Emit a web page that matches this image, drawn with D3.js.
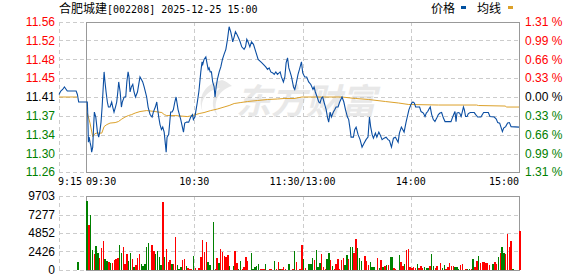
<!DOCTYPE html>
<html><head><meta charset="utf-8">
<script src="https://cdn.jsdelivr.net/npm/d3@7/dist/d3.min.js"></script>
<style>html,body{margin:0;padding:0;background:#fff;}svg{display:block;}</style>
</head><body>
<svg id="c" width="578" height="276"></svg>
<script>
// ---------- data ----------
const titleName = "合肥城建";
const titleRest = "[002208] 2025-12-25 15:00";
const prevClose = 11.41;
const pctMax = 1.31;
const pctLevels = [1.31, 0.99, 0.66, 0.33, 0, -0.33, -0.66, -0.99, -1.31];
const priceTickLabels = ["11.56","11.52","11.48","11.45","11.41","11.37","11.34","11.30","11.26"];
const pctTickLabels = ["1.31 %","0.99 %","0.66 %","0.33 %","0.00 %","0.33 %","0.66 %","0.99 %","1.31 %"];
const volMax = 9703;
const volTicks = [9703, 7277, 4852, 2426, 0];
const timeLabels = ["9:15","09:30","10:30","11:30/13:00","14:00","15:00"];
const timeLabelMin = [-15, 0, 60, 120, 180, 240];
const legendLabels = ["价格","均线"];

// minutes from 09:30 (negative = call auction, 121+ = afternoon)
const priceMin = [-15,-14,-13,-12,-10.4,-5.5,-4.8,-4.1,0.7,0.9,1.3,1.7,2.2,2.8,3.1,3.7,4.1,4.6,5.4,5.7,6.3,7.0,7.6,8.3,8.9,9.6,10,10.5,11.1,11.8,12.4,13.3,14.2,14.8,15.5,16.3,17,17.6,18.1,18.5,18.9,19.6,20.1,21.1,22,22.6,23.3,23.8,24.4,25.1,25.9,26.6,27.4,28.5,29.2,29.9,30.7,31.4,32.2,32.9,33.6,34.4,35.5,36.6,37.3,38.4,39.2,39.7,40.3,41,41.8,42.5,43.3,44,44.4,44.9,45.8,46.4,46.9,47.7,48.4,49.2,49.9,51.0,52.5,53.4,54.0,54.7,55.8,56.9,58.0,59.0,59.5,60.3,61.0,61.7,62.5,62.8,63.6,64.3,64.7,65.4,66.4,66.9,67.7,68.2,68.8,69.5,70.2,71.0,71.5,72.1,72.8,73.8,74.7,75.6,76.5,77.5,78.4,79.3,80.2,80.8,81.3,82.1,82.8,83.6,84.5,85.4,86.3,87.6,88.4,89.1,89.8,90.8,91.7,92.8,94.1,95.4,96.9,98.3,99.6,100.6,101.5,102.4,103.5,104.3,105.2,106.1,107.6,108.3,109.4,110.2,110.9,111.7,112.4,113.1,113.9,115.0,115.7,116.4,117.5,118.3,119.4,120.1,121.2,122.3,123.4,124.6,125.8,126.4,127.1,128.1,129,129.7,130.5,131.2,131.9,133.1,133.8,134.5,135.3,136,137.1,137.9,138.6,139.7,140.6,141.9,142.9,143.8,144.9,145.6,146.4,146.9,148.2,148.9,149.7,150.8,151.9,153,154.1,155.2,156.3,157.1,157.8,158.6,159.3,160.4,161.2,162.3,163,164.1,165.2,166.3,167.4,168.2,169.3,170.4,171.5,173,173.7,174.8,176.3,177.4,178.1,179,179.8,180.5,181.2,182,182.7,183.8,184.9,185.7,187,187.9,188.6,189.4,190.1,190.8,191.6,192.5,193.4,194.4,195.3,196.2,197.1,198.1,199,202.3,203,203.8,204.5,205.1,205.6,206.4,207.1,207.9,208.6,209.2,209.7,210.4,211.2,211.9,213,215.2,216,217.1,218.9,219.7,220.4,223,223.9,226.3,227.4,228.2,229.3,230,230.8,231.5,232.6,233.7,234.7,235.6,240];
const priceVal = [11.415,11.422,11.425,11.43,11.422,11.422,11.415,11.40,11.40,11.38,11.32,11.33,11.32,11.31,11.30,11.31,11.345,11.38,11.37,11.36,11.34,11.33,11.34,11.36,11.39,11.435,11.46,11.44,11.42,11.40,11.39,11.39,11.40,11.39,11.38,11.39,11.40,11.42,11.44,11.43,11.42,11.39,11.40,11.41,11.41,11.44,11.46,11.45,11.42,11.43,11.435,11.42,11.41,11.42,11.435,11.45,11.445,11.44,11.43,11.42,11.41,11.39,11.375,11.37,11.38,11.39,11.40,11.385,11.37,11.355,11.345,11.35,11.34,11.315,11.30,11.33,11.335,11.36,11.38,11.38,11.385,11.40,11.41,11.385,11.365,11.35,11.34,11.358,11.36,11.36,11.37,11.375,11.365,11.37,11.385,11.40,11.42,11.43,11.46,11.48,11.475,11.485,11.49,11.48,11.465,11.468,11.46,11.46,11.44,11.43,11.41,11.43,11.445,11.46,11.47,11.485,11.495,11.505,11.525,11.55,11.54,11.53,11.52,11.53,11.54,11.535,11.528,11.52,11.51,11.505,11.51,11.525,11.52,11.51,11.52,11.515,11.50,11.485,11.48,11.475,11.47,11.465,11.468,11.46,11.458,11.455,11.46,11.455,11.46,11.45,11.44,11.45,11.478,11.488,11.468,11.46,11.45,11.43,11.425,11.435,11.455,11.465,11.48,11.458,11.45,11.45,11.44,11.435,11.425,11.43,11.42,11.41,11.40,11.398,11.408,11.41,11.40,11.385,11.37,11.36,11.38,11.37,11.38,11.385,11.39,11.39,11.40,11.41,11.40,11.385,11.37,11.365,11.345,11.33,11.33,11.345,11.35,11.335,11.325,11.31,11.318,11.325,11.33,11.37,11.35,11.335,11.328,11.338,11.33,11.34,11.335,11.325,11.328,11.33,11.325,11.323,11.31,11.328,11.33,11.32,11.338,11.35,11.34,11.36,11.371,11.385,11.392,11.398,11.40,11.398,11.39,11.39,11.39,11.381,11.378,11.371,11.378,11.381,11.386,11.39,11.375,11.365,11.361,11.368,11.375,11.378,11.379,11.368,11.361,11.361,11.368,11.375,11.381,11.361,11.378,11.379,11.378,11.371,11.381,11.39,11.385,11.371,11.371,11.377,11.379,11.379,11.375,11.37,11.37,11.375,11.379,11.379,11.371,11.37,11.366,11.359,11.358,11.35,11.341,11.348,11.351,11.358,11.359,11.351,11.35];

const avgPreMin = [-15, -5];
const avgPreVal = [11.41, 11.41];
const avgMin = [0.7,2.2,3.7,4.4,5.5,8.7,10,11.5,13.3,16.1,17.9,19.8,21.6,23.5,25.3,27.2,29.9,33.6,38.3,42,43.3,44.7,49.4,56.2,59,62.7,65.4,69.1,72.8,76.5,79.3,82.1,85.8,89.5,95,100.6,106.1,109.8,115.3,119.7,141.9,149.3,156.7,166,173.3,178.9,180.5,195.3,216.5,217.5,232.3,233.2,240];
const avgVal = [11.378,11.358,11.331,11.335,11.338,11.338,11.351,11.355,11.358,11.359,11.361,11.366,11.37,11.373,11.375,11.378,11.381,11.383,11.381,11.379,11.375,11.373,11.373,11.371,11.373,11.377,11.379,11.383,11.386,11.39,11.393,11.397,11.399,11.401,11.403,11.405,11.406,11.407,11.407,11.41,11.41,11.407,11.405,11.401,11.398,11.395,11.395,11.394,11.394,11.393,11.392,11.39,11.39];

const volMin = [-5,0,1,2,3,4,5,6,7,8,9,10,11,12,13,14,15,16,17,18,19,20,21,22,23,24,25,26,27,28,29,30,31,32,33,34,36,37,38,39,40,41,42,43,44,45,46,47,48,49,50,51,52,53,54,55,56,57,58,59,60,62,63,64,65,66,67,68,70,71,72,73,74,75,76,77,78,79,81,82,83,84,85,86,87,88,89,91,92,93,94,95,96,97,98,99,101,102,104,105,106,107,108,109,110,
112,114,115,116,118,119,120,121,123,124,125,126,127,128,129,130,131,132,133,134,135,136,137,138,139,140,141,142,143,144,145,146,147,148,149,150,151,152,154,155,156,157,158,159,161,162,163,164,165,166,167,168,169,170,171,173,174,175,176,177,178,179,180,181,182,183,184,185,186,187,188,189,190,191,192,193,194,196,197,198,199,200,201,202,203,204,205,206,207,208,210,211,212,213,214,215,216,217,218,219,220,221,222,223,225,226,227,228,229,230,231,232,233,234,235,236,240];
const volVal = [1054,9000,5883,7244,2634,2063,3161,2283,1624,2854,3819,1493,1185,1054,878,966,1317,1405,1537,3249,2283,3029,746,2063,1185,2283,1493,439,615,1624,2063,746,527,790,3029,3512,3249,2502,2063,2502,1712,659,8868,1712,2722,1054,1317,746,834,4346,659,88,439,1317,1405,527,263,176,88,1844,307,263,1756,3951,2371,3688,1054,615,6322,88,1624,922,2810,2415,1844,1712,1932,527,483,2502,922,176,1185,176,439,1756,1141,2239,176,439,527,790,132,132,132,834,132,132,1185,132,1054,176,132,395,132,
746,176,2502,1054,176,3292,1493,220,746,790,1580,1317,2634,439,878,2107,395,176,1449,2239,1317,527,176,834,1449,132,1317,1580,659,1976,1449,3029,3029,2283,4083,2897,1580,1229,1844,1185,702,1054,439,439,1580,307,1317,439,527,659,615,1712,1756,263,132,1976,1054,483,746,2634,2766,395,263,395,263,790,220,527,307,351,263,307,527,2107,527,307,527,878,220,615,176,351,878,527,483,439,395,176,702,790,88,88,176,132,1449,351,1141,1844,878,1054,1054,878,878,659,834,1054,834,1668,2283,3029,2195,2063,4785,3029,3819,132,5049];
const volUp = [0,0,1,0,0,1,0,0,1,1,1,0,0,1,0,1,1,1,1,0,0,1,1,1,0,0,1,0,1,1,1,0,0,0,0,0,1,1,0,0,0,0,1,0,1,1,1,0,1,1,0,0,0,1,1,0,1,1,1,0,1,1,1,1,1,1,0,0,0,1,1,0,1,1,1,1,1,0,0,1,1,0,0,1,1,1,1,0,0,0,0,0,1,1,1,0,1,1,0,1,1,0,1,1,1,
0,1,0,1,1,1,0,1,0,0,0,1,0,0,0,1,1,1,0,0,1,0,1,1,1,1,1,1,0,0,1,0,0,1,1,0,0,0,1,1,1,0,0,0,1,0,1,0,1,0,1,0,0,1,1,0,1,1,0,1,1,1,1,1,1,0,1,1,1,0,0,0,1,0,0,1,1,1,0,0,1,1,1,1,1,0,0,0,1,1,1,0,0,1,0,1,1,0,1,1,1,1,1,1,0,1,1,0,1,0,0,1,1,1,1,0,1,1];

// ---------- drawing ----------
const svg = d3.select("#c");
const X0 = 59, X1 = 519;          // 09:15 .. 15:00
const PT = 22, PB = 172;          // price panel
const VT = 196, VB = 270;         // volume panel
const labelFont = "'Liberation Sans', Arial, sans-serif";
const monoFont = "'DejaVu Sans Mono', monospace";
const cjkFont = "'Noto Sans CJK SC', sans-serif";
const RED = "#ff0000", GREEN = "#008000", GRID = "#cccccc", BORDER = "#999999";
const BLUE = "#0b4ea2", ORANGE = "#dca12a";

const x = d3.scaleLinear().domain([-15, 240]).range([X0, X1]);
const yP = d3.scaleLinear().domain([prevClose*(1-pctMax/100), prevClose*(1+pctMax/100)]).range([PB, PT]);
const yV = d3.scaleLinear().domain([0, volMax]).range([VB, VT]);

// watermark
const wm = svg.append("g").attr("fill", "#e8e8e8");
wm.append("path")
  .attr("d", "M222,80 C203,84 196,100 204,114 C198,104 205,90 220,88 C212,95 210,108 218,116 C212,104 218,90 232,86 C228,83 226,81 222,80 Z");
wm.append("text").attr("x", 236).attr("y", 114)
  .attr("font-family", cjkFont).attr("font-weight", "bold").attr("font-style", "italic")
  .attr("font-size", 35).text("东方财富");

// grid helpers
const grid = svg.append("g").attr("stroke", GRID).attr("stroke-dasharray", "4,3").attr("fill", "none");
pctLevels.forEach((p, i) => {
  const yy = Math.round(yP(prevClose*(1+p/100))) + 0.5;
  const full = (i > 0 && i < pctLevels.length - 1);
  grid.append("line").attr("x1", x(-15)).attr("x2", full ? X1 : x(0)).attr("y1", yy).attr("y2", yy);
});
volTicks.forEach((v, i) => {
  const yy = Math.round(yV(v)) + 0.5;
  const full = (i > 0 && i < volTicks.length - 1);
  grid.append("line").attr("x1", x(-15)).attr("x2", full ? X1 : x(0)).attr("y1", yy).attr("y2", yy);
});
[-15, 60, 120, 180].forEach(m => {
  const xx = Math.round(x(m)) + 0.5;
  grid.append("line").attr("x1", xx).attr("x2", xx).attr("y1", PT).attr("y2", PB);
  grid.append("line").attr("x1", xx).attr("x2", xx).attr("y1", VT).attr("y2", VB);
});

// boxes
const bx = Math.round(x(0)) + 0.5, bx2 = Math.round(x(240)) + 0.5;
[[PT, PB], [VT, VB]].forEach(([t, b]) => {
  svg.append("rect").attr("x", bx).attr("y", Math.round(yP.range ? t : t) + 0.5)
    .attr("width", bx2 - bx).attr("height", b - t)
    .attr("fill", "none").attr("stroke", BORDER);
});

// volume bars
const bars = svg.append("g").attr("shape-rendering", "crispEdges");
volMin.forEach((m, i) => {
  const top = yV(volVal[i]);
  bars.append("rect").attr("x", x(m) + 0.4).attr("width", 1.4)
    .attr("y", top).attr("height", VB - top)
    .attr("fill", volUp[i] ? RED : GREEN);
});

// lines
const line = d3.line().x(d => x(d[0])).y(d => yP(d[1]));
svg.append("path").datum(avgPreMin.map((m, i) => [m, avgPreVal[i]]))
  .attr("d", line).attr("fill", "none").attr("stroke", ORANGE).attr("stroke-width", 1);
svg.append("path").datum(avgMin.map((m, i) => [m, avgVal[i]]))
  .attr("d", line).attr("fill", "none").attr("stroke", ORANGE).attr("stroke-width", 1);
svg.append("path").datum(priceMin.map((m, i) => [m, priceVal[i]]))
  .attr("d", line).attr("fill", "none").attr("stroke", BLUE).attr("stroke-width", 1.1);

// left price labels & right pct labels
const lab = svg.append("g").attr("font-family", labelFont).attr("font-size", 12);
pctLevels.forEach((p, i) => {
  const yy = yP(prevClose*(1+p/100));
  const col = p > 0 ? RED : (p < 0 ? GREEN : "#000");
  lab.append("text").attr("x", 55).attr("y", yy).attr("dy", "0.36em")
    .attr("text-anchor", "end").attr("fill", col).text(priceTickLabels[i]);
  lab.append("text").attr("x", 525).attr("y", yy).attr("dy", "0.36em")
    .attr("text-anchor", "start").attr("fill", col).text(pctTickLabels[i]);
});
volTicks.forEach(v => {
  lab.append("text").attr("x", 55).attr("y", yV(v)).attr("dy", "0.36em")
    .attr("text-anchor", "end").attr("fill", "#000").text(v);
});

// time labels
const anchors = ["start","start","middle","middle","middle","end"];
timeLabels.forEach((t, i) => {
  svg.append("text").attr("x", x(timeLabelMin[i]) - (i === 0 ? 1 : 0)).attr("y", 185)
    .attr("font-family", monoFont).attr("font-size", 10).attr("fill", "#000")
    .attr("text-anchor", anchors[i]).text(t);
});

// title
const tt = svg.append("text").attr("x", 59).attr("y", 13).attr("fill", "#000");
tt.append("tspan").attr("font-family", cjkFont).attr("font-size", 12).text(titleName);
tt.append("tspan").attr("font-family", monoFont).attr("font-size", 10).text(titleRest);

// legend
const lg = svg.append("g").attr("font-family", cjkFont).attr("font-size", 12).attr("fill", "#000");
lg.append("text").attr("x", 431).attr("y", 13).text(legendLabels[0]);
lg.append("rect").attr("x", 461).attr("y", 6).attr("width", 5).attr("height", 3).attr("fill", "#0050a0");
lg.append("text").attr("x", 477).attr("y", 13).text(legendLabels[1]);
lg.append("rect").attr("x", 508).attr("y", 6).attr("width", 5).attr("height", 3).attr("fill", ORANGE);
</script>
</body></html>
